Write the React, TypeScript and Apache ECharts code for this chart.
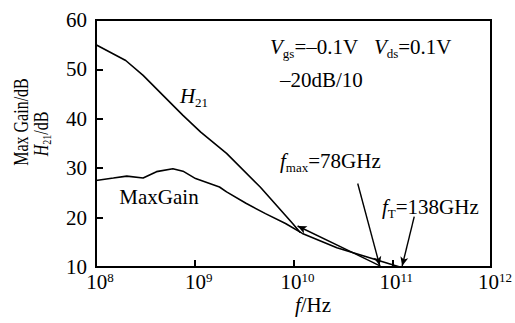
import React, { useEffect, useRef } from "react";
import * as echarts from "echarts";

// H21 (current gain) curve
const h21Freq = [1e8, 2.0e8, 3.0e8, 4.8e8, 7.6e8, 1.15e9, 2.1e9, 4.6e9, 9.8e9, 1.17e10];
const h21Gain = [55.0, 51.8, 48.8, 44.7, 40.7, 37.3, 33.0, 26.2, 18.8, 17.0];

// Max gain curve (continues to the 10 dB line)
const mgFreq = [1e8, 1.5e8, 2.05e8, 3.0e8, 4.1e8, 6.0e8, 7.6e8, 1.02e9, 1.78e9, 2.1e9, 3.3e9, 5.2e9, 8.3e9, 1.23e10, 2.75e10, 1.17e11];
const mgGain = [27.5, 28.0, 28.4, 28.0, 29.3, 29.9, 29.4, 27.9, 26.2, 25.2, 22.9, 20.8, 18.8, 16.8, 13.9, 10.05];

// extrapolation line (from the 10 dB line back to the kink)
const extrapFrom = [7.6e10, 10.2];
const extrapTo = [1.1e10, 18.3];
// annotation arrows
const fmaxArrowFrom = [4.47e10, 26.9];
const fmaxArrowTo = [7.46e10, 10.3];
const ftArrowFrom = [1.67e11, 20.2];
const ftArrowTo = [1.26e11, 10.2];

const yTicks = [10, 20, 30, 40, 50, 60];

const FONT = "Liberation Serif";

export default function App() {
  const ref = useRef<HTMLDivElement>(null);
  useEffect(() => {
    if (!ref.current) return;
    const chart = echarts.init(ref.current, undefined, { renderer: "svg" });
    const base = { fontFamily: FONT, fontSize: 21, color: "#000" };
    const rich = {
      n: { ...base, lineHeight: 25 },
      i: { ...base, fontStyle: "italic", lineHeight: 25 },
      sub: { fontFamily: FONT, fontSize: 13, color: "#000", verticalAlign: "bottom", lineHeight: 25 },
    };
    const baseY = { fontFamily: FONT, fontSize: 16, color: "#000" };
    const richY = {
      n: { ...baseY, lineHeight: 19 },
      i: { ...baseY, fontStyle: "italic", lineHeight: 19 },
      sub: { fontFamily: FONT, fontSize: 10, color: "#000", verticalAlign: "bottom", lineHeight: 19 },
    };
    const arrowLine = (a: number[], b: number[]) => [{ coord: a }, { coord: b }];
    chart.setOption({
      animation: false,
      grid: { left: 96, right: 19, top: 20, bottom: 56, show: true, borderColor: "#000", borderWidth: 2 },
      xAxis: {
        type: "log",
        logBase: 10,
        min: 1e8,
        max: 1e12,
        axisLine: { lineStyle: { color: "#000", width: 2 } },
        axisTick: { inside: true, length: 7, lineStyle: { color: "#000", width: 2 } },
        splitLine: { show: false },
        axisLabel: {
          margin: 4,
          padding: [0, 0, 0, 8],
          formatter: (v: number) => `{b|10}{s|${Math.round(Math.log10(v))}}`,
          rich: {
            b: { fontFamily: FONT, fontSize: 21, color: "#000", lineHeight: 22 },
            s: { fontFamily: FONT, fontSize: 13, color: "#000", verticalAlign: "top", lineHeight: 22 },
          },
        },
      },
      yAxis: {
        type: "value",
        min: yTicks[0],
        max: yTicks[yTicks.length - 1],
        interval: 10,
        axisLine: { show: true, lineStyle: { color: "#000", width: 2 } },
        axisTick: { show: true, inside: true, length: 7, lineStyle: { color: "#000", width: 2 } },
        splitLine: { show: false },
        axisLabel: { fontFamily: FONT, fontSize: 21, color: "#000", margin: 9 },
      },
      series: [
        {
          type: "line",
          data: h21Freq.map((f, i) => [f, h21Gain[i]]),
          showSymbol: false,
          lineStyle: { color: "#000", width: 1.6 },
        },
        {
          type: "line",
          data: mgFreq.map((f, i) => [f, mgGain[i]]),
          showSymbol: false,
          lineStyle: { color: "#000", width: 1.6 },
          markLine: {
            silent: true,
            symbol: ["none", "arrow"],
            symbolSize: [6, 9],
            label: { show: false },
            lineStyle: { color: "#000", width: 1.4, type: "solid" },
            data: [
              arrowLine(extrapFrom, extrapTo),
              arrowLine(fmaxArrowFrom, fmaxArrowTo),
              arrowLine(ftArrowFrom, ftArrowTo),
            ],
          },
        },
      ],
      graphic: [
        { type: "text", x: 194, y: 96, style: { text: "{i|H}{sub|21}", rich, align: "center", verticalAlign: "middle" } },
        { type: "text", x: 159, y: 197, style: { text: "MaxGain", ...base, align: "center", verticalAlign: "middle" } },
        {
          type: "text",
          x: 270,
          y: 47,
          style: { text: "{i|V}{sub|gs}{n|=\u20130.1V   }{i|V}{sub|ds}{n|=0.1V}", rich, align: "left", verticalAlign: "middle" },
        },
        { type: "text", x: 280, y: 80, style: { text: "\u201320dB/10", ...base, align: "left", verticalAlign: "middle" } },
        { type: "text", x: 280, y: 161, style: { text: "{i|f}{sub|max}{n|=78GHz}", rich, align: "left", verticalAlign: "middle" } },
        { type: "text", x: 382, y: 207, style: { text: "{i|f}{sub|T}{n|=138GHz}", rich, align: "left", verticalAlign: "middle" } },
        { type: "text", x: 313, y: 305, style: { text: "{i|f}{n|/Hz}", rich, align: "center", verticalAlign: "middle" } },
        {
          type: "text",
          x: 21,
          y: 122,
          rotation: Math.PI / 2,
          scaleY: 1.3,
          style: { text: "Max Gain/dB", ...baseY, align: "center", verticalAlign: "middle" },
        },
        {
          type: "text",
          x: 41,
          y: 134,
          rotation: Math.PI / 2,
          scaleY: 1.3,
          style: { text: "{i|H}{sub|21}{n|/dB}", rich: richY, align: "center", verticalAlign: "middle" },
        },
      ],
    });
    return () => chart.dispose();
  }, []);
  return <div ref={ref} style={{ width: 515, height: 323, position: "absolute", left: 0, top: 0 }} />;
}
